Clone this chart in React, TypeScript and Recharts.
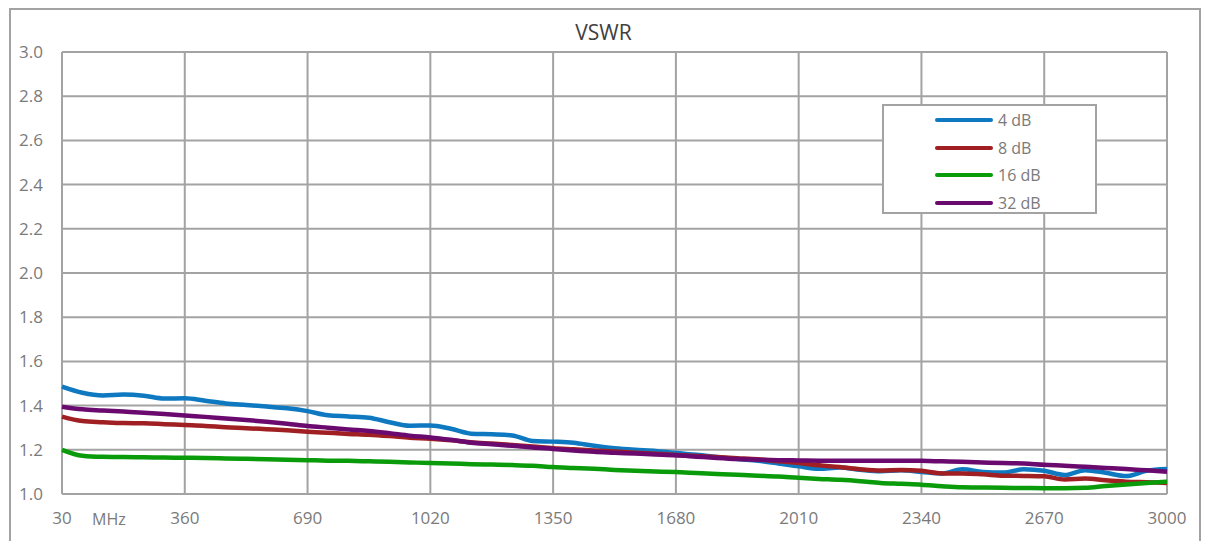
import * as React from "react";
import { CartesianGrid, Line, LineChart, XAxis, YAxis } from "recharts";

const freqs = [
  30, 85, 140, 195, 250, 305, 360, 415, 470, 525, 580, 635, 690, 745, 800, 855, 910, 965, 1020,
  1075, 1130, 1185, 1240, 1295, 1350, 1405, 1460, 1515, 1570, 1625, 1680, 1735, 1790, 1845, 1900,
  1955, 2010, 2065, 2120, 2175, 2230, 2285, 2340, 2395, 2450, 2505, 2560, 2615, 2670, 2725, 2780,
  2835, 2890, 2945, 3000,
];

const vswr4 = [
  1.486, 1.458, 1.446, 1.45, 1.445, 1.432, 1.433, 1.422, 1.41, 1.403, 1.396, 1.388, 1.375, 1.356,
  1.351, 1.345, 1.325, 1.309, 1.31, 1.295, 1.273, 1.27, 1.265, 1.24, 1.237, 1.232, 1.218, 1.207,
  1.2, 1.195, 1.185, 1.178, 1.168, 1.158, 1.15, 1.138, 1.125, 1.114, 1.12, 1.11, 1.103, 1.107, 1.1,
  1.093, 1.112, 1.1, 1.097, 1.112, 1.105, 1.086, 1.108, 1.096, 1.081, 1.105, 1.113,
];

const vswr8 = [
  1.35, 1.33, 1.325, 1.321, 1.32, 1.316, 1.312, 1.308, 1.302, 1.298, 1.293, 1.288, 1.282, 1.277,
  1.272, 1.268, 1.262, 1.255, 1.25, 1.243, 1.234, 1.228, 1.222, 1.215, 1.207, 1.202, 1.197, 1.192,
  1.187, 1.182, 1.177, 1.172, 1.167, 1.162, 1.157, 1.148, 1.14, 1.13, 1.122, 1.112, 1.106, 1.109,
  1.105, 1.093, 1.093, 1.089, 1.083, 1.082, 1.08, 1.066, 1.07, 1.062, 1.056, 1.053, 1.05,
];

const vswr16 = [
  1.2, 1.173, 1.168, 1.167, 1.166, 1.165, 1.164, 1.163, 1.161, 1.159, 1.157, 1.155, 1.153, 1.151,
  1.15, 1.148, 1.146, 1.143, 1.14, 1.138, 1.135, 1.133, 1.131, 1.128, 1.122, 1.118, 1.114, 1.109,
  1.105, 1.102, 1.099, 1.095, 1.091, 1.087, 1.083, 1.079, 1.073, 1.068, 1.064, 1.058, 1.05, 1.046,
  1.042, 1.035, 1.03, 1.029, 1.028, 1.027, 1.026, 1.026, 1.028, 1.036, 1.043, 1.05, 1.056,
];

const vswr32 = [
  1.395, 1.383, 1.378, 1.373, 1.368, 1.362, 1.355, 1.349, 1.342, 1.335, 1.327, 1.318, 1.308, 1.3,
  1.292, 1.285, 1.275, 1.264, 1.256, 1.245, 1.232, 1.225, 1.218, 1.21, 1.204, 1.197, 1.191, 1.187,
  1.183, 1.179, 1.175, 1.169, 1.163, 1.158, 1.155, 1.153, 1.152, 1.151, 1.151, 1.151, 1.151, 1.151,
  1.15, 1.148, 1.146, 1.143, 1.14, 1.138, 1.132, 1.128, 1.123, 1.118, 1.113, 1.107, 1.101,
];

const xTicks = [30, 360, 690, 1020, 1350, 1680, 2010, 2340, 2670, 3000];
const yTicks = [1.0, 1.2, 1.4, 1.6, 1.8, 2.0, 2.2, 2.4, 2.6, 2.8, 3.0];

const series = [
  { key: "s4", name: "4 dB", color: "#0e78c0" },
  { key: "s8", name: "8 dB", color: "#a01f22" },
  { key: "s16", name: "16 dB", color: "#0a9b0a" },
  { key: "s32", name: "32 dB", color: "#6b0a6e" },
];

const data = freqs.map((f, i) => ({
  f,
  s4: vswr4[i],
  s8: vswr8[i],
  s16: vswr16[i],
  s32: vswr32[i],
}));

const FONT = "'Open Sans', sans-serif";
const TEXT = "#7a7a7a";
const GRID = "#a3a3a3";

export default function App() {
  return (
    <div
      style={{
        position: "absolute",
        left: 0,
        top: 0,
        width: 1207,
        height: 541,
        overflow: "hidden",
        background: "#fff",
        fontFamily: FONT,
      }}
    >
      <div
        style={{
          position: "absolute",
          left: 9,
          top: 8,
          width: 1188,
          height: 560,
          border: `2px solid ${GRID}`,
        }}
      />
      <div
        style={{
          position: "absolute",
          left: 0,
          width: 1207,
          top: 18,
          textAlign: "center",
          fontSize: 21,
          color: "#404040",
        }}
      >
        VSWR
      </div>
      <LineChart
        width={1207}
        height={541}
        data={data}
        margin={{ top: 52, right: 40, bottom: 0, left: 0 }}
        style={{ position: "absolute", left: 0, top: 0 }}
      >
        <CartesianGrid stroke={GRID} strokeWidth={2} />
        <XAxis
          dataKey="f"
          type="number"
          domain={[30, 3000]}
          ticks={xTicks}
          interval={0}
          height={47}
          axisLine={false}
          tickLine={false}
          tickSize={0}
          tickMargin={18}
          tick={{ fill: TEXT, fontSize: 17, fontFamily: FONT }}
        />
        <YAxis
          type="number"
          domain={[1, 3]}
          ticks={yTicks}
          interval={0}
          width={62}
          axisLine={false}
          tickLine={false}
          tickSize={0}
          tickMargin={19}
          tickFormatter={(v: number) => v.toFixed(1)}
          tick={{ fill: TEXT, fontSize: 17, fontFamily: FONT }}
        />
        {series.map((s) => (
          <Line
            key={s.key}
            dataKey={s.key}
            name={s.name}
            type="monotone"
            stroke={s.color}
            strokeWidth={4.5}
            dot={false}
            isAnimationActive={false}
          />
        ))}
      </LineChart>
      <div
        style={{
          position: "absolute",
          left: 92,
          top: 508,
          fontSize: 16,
          color: TEXT,
        }}
      >
        MHz
      </div>
      <div
        style={{
          position: "absolute",
          left: 882,
          top: 104,
          width: 211,
          height: 106,
          border: `2px solid ${GRID}`,
          background: "#fff",
        }}
      >
        {series.map((s, i) => (
          <div
            key={s.key}
            style={{
              position: "absolute",
              left: 51,
              top: 3 + i * 27.6,
              height: 22,
              display: "flex",
              alignItems: "center",
            }}
          >
            <div
              style={{
                width: 58,
                height: 4,
                borderRadius: 2,
                background: s.color,
                marginRight: 5,
              }}
            />
            <span style={{ fontSize: 16, color: TEXT }}>{s.name}</span>
          </div>
        ))}
      </div>
    </div>
  );
}
